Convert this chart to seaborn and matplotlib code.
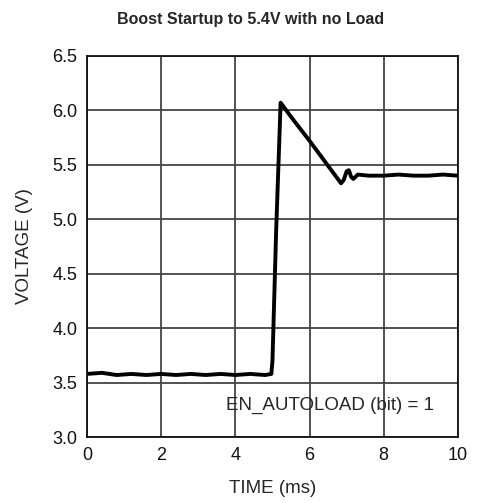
import matplotlib
matplotlib.use("Agg")
import matplotlib.pyplot as plt
import seaborn as sns
import pandas as pd

# waveform
time_ms = [0.0, 0.4, 0.8, 1.2, 1.6, 2.0, 2.4, 2.8, 3.2, 3.6, 4.0, 4.4, 4.8, 4.97,
           5.0, 5.1, 5.22, 5.5, 6.0, 6.5, 6.85, 6.92, 7.0, 7.06, 7.12, 7.18, 7.3,
           7.6, 8.0, 8.4, 8.8, 9.2, 9.6, 10.0]
voltage = [3.58, 3.59, 3.57, 3.58, 3.57, 3.58, 3.57, 3.58, 3.57, 3.58, 3.57, 3.58, 3.57, 3.58,
           3.70, 4.90, 6.07, 5.94, 5.72, 5.49, 5.33, 5.36, 5.44, 5.45, 5.39, 5.37, 5.41,
           5.40, 5.40, 5.41, 5.40, 5.40, 5.41, 5.40]

x_ticks = [0, 2, 4, 6, 8, 10]
y_ticks = [3.0, 3.5, 4.0, 4.5, 5.0, 5.5, 6.0, 6.5]

df = pd.DataFrame({"time": time_ms, "voltage": voltage})

sns.set_style("white")
plt.rcParams["font.family"] = ["Liberation Sans", "DejaVu Sans"]

fig = plt.figure(figsize=(4.78, 5.03), dpi=100)
ax = fig.add_axes([0.182, 0.131, 0.776, 0.758])

sns.lineplot(data=df, x="time", y="voltage", ax=ax, color="black", linewidth=2.8)

ax.set_xlim(0, 10)
ax.set_ylim(3.0, 6.5)
ax.set_xticks(x_ticks)
ax.set_yticks(y_ticks)
ax.set_yticklabels([f"{v:.1f}" for v in y_ticks])
ax.grid(True, color="#444444", linewidth=1.3)
ax.tick_params(axis="both", length=0, labelsize=13, pad=7, labelcolor="#111111")
for s in ax.spines.values():
    s.set_color("#111111")
    s.set_linewidth(1.3)

ax.set_xlabel("TIME (ms)", fontsize=13.5, labelpad=12)
ax.set_ylabel("VOLTAGE (V)", fontsize=13.5, labelpad=14)
fig.suptitle("Boost Startup to 5.4V with no Load", fontsize=11.5, fontweight="bold",
             x=0.525, y=0.976)
ax.text(9.35, 3.29, "EN_AUTOLOAD (bit) = 1", ha="right", va="center", fontsize=13.5)

fig.savefig("out.png", dpi=100)
